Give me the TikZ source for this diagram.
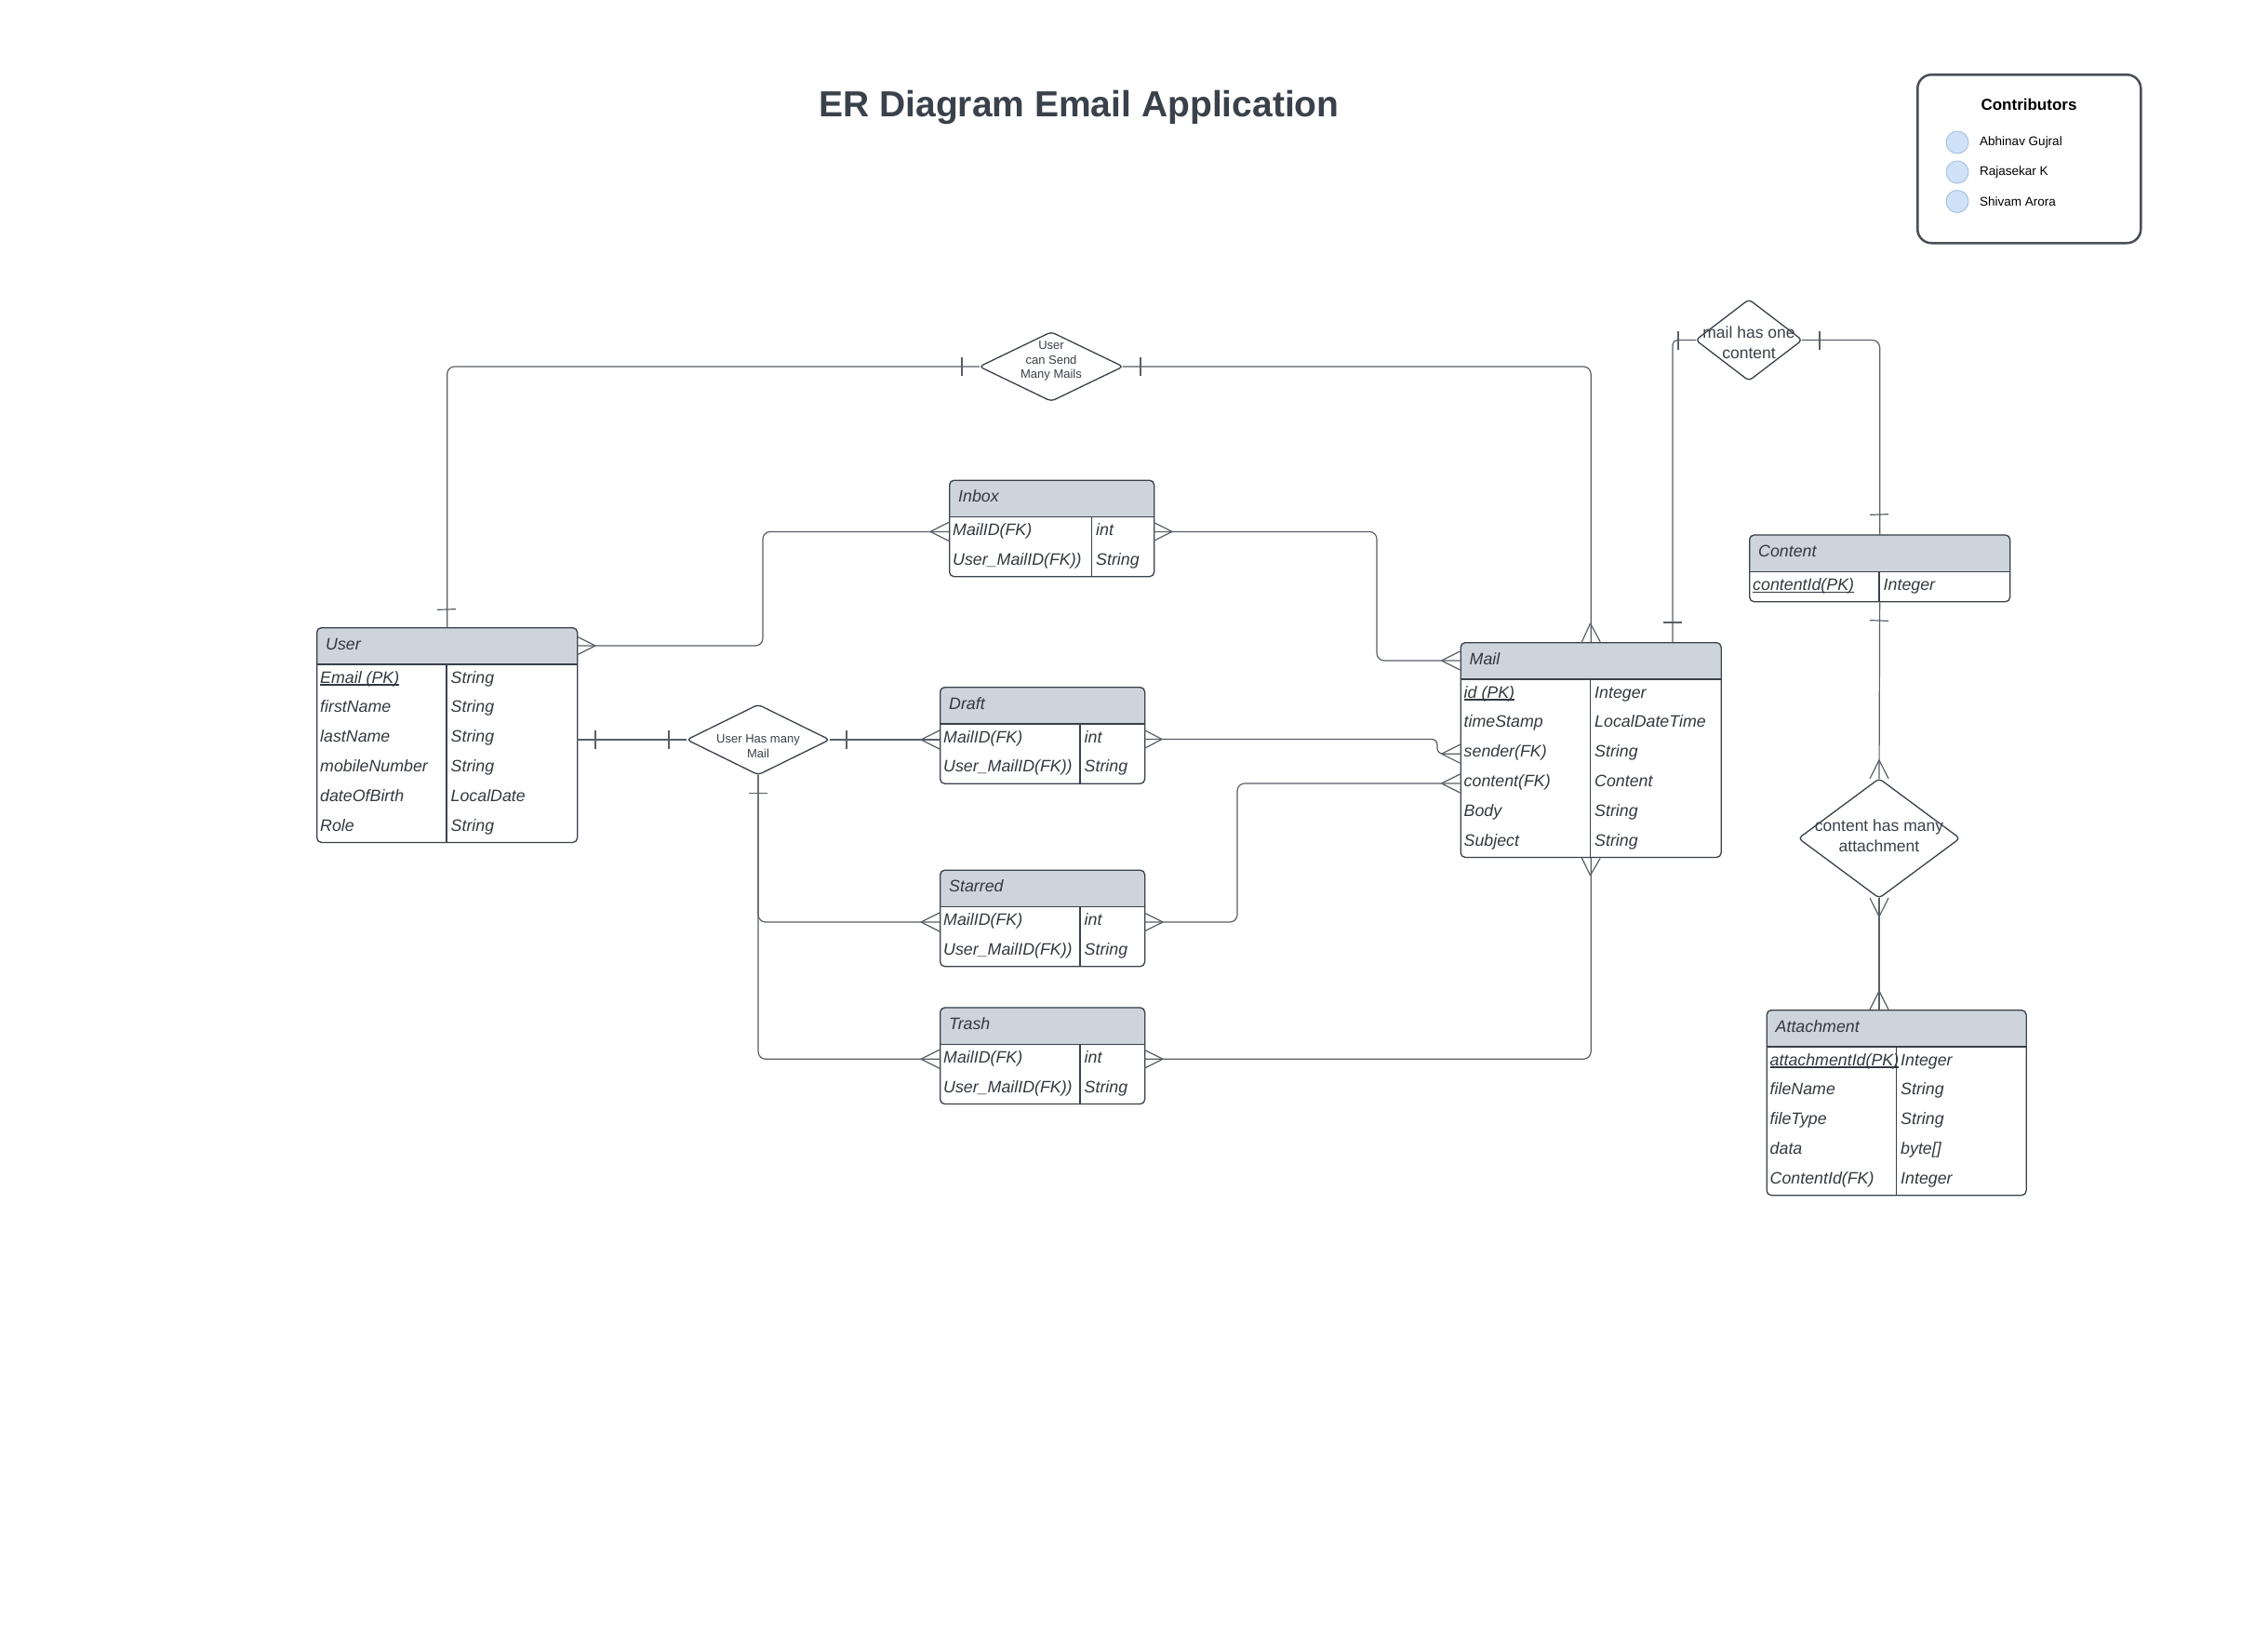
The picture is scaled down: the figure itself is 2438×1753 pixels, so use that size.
\documentclass[tikz,border=0pt]{standalone}
\usepackage{fontspec}
\setmainfont{Liberation Sans}
\usetikzlibrary{calc}
\definecolor{ink}{HTML}{3A414A}
\definecolor{txt}{HTML}{333840}
\definecolor{hdr}{HTML}{CED4DB}
\definecolor{connc}{HTML}{5A5F66}
\definecolor{circfill}{HTML}{CFE2F8}
\definecolor{circdraw}{HTML}{A9C3E0}
\definecolor{boxc}{HTML}{4A4F56}

\tikzset{
 conn/.style={draw=connc, line width=1.2pt},
 tbl/.style={draw=ink, line width=1.3pt, rounded corners=5pt, inner sep=0pt, fill=none},
 tblline/.style={draw=ink, line width=1.3pt},
 hdrtext/.style={inner sep=0pt, text=txt, font=\fontsize{17.8}{21}\selectfont\itshape},
 rowtext/.style={inner sep=0pt, text=txt, font=\fontsize{17.8}{21}\selectfont\itshape},
 relshape/.style={draw=ink, line width=1.3pt, rounded corners=4pt, fill=white},
 reltext/.style={inner sep=0pt, text=ink, align=center},
 relbox/.style={inner sep=0pt, draw=none},
 person/.style={circle, fill=circfill, draw=circdraw, line width=1pt, minimum size=24pt, inner sep=0pt},
 personname/.style={anchor=west, inner sep=0pt, font=\fontsize{13.5}{16}\selectfont},
}

\newcommand\ulText[1]{\setbox0=\hbox{#1}\rlap{\rule[-2.6pt]{\wd0}{1.2pt}}\box0}

% name, x, y, width, divider x, rows, title, rows list
\newcommand\ertable[8]{%
 \pgfmathsetmacro\erh{40+#6*31.8}%
 \begin{scope}
  \clip[rounded corners=5pt] (#2,#3) rectangle ++(#4,\erh);
  \fill[hdr] (#2,#3) rectangle ++(#4,40);
 \end{scope}
 \node[tbl, minimum width=#4pt, minimum height=\erh pt, anchor=north west] (#1) at (#2,#3) {};
 \draw[tblline] (#2,#3+40) -- ++(#4,0);
 \draw[tblline] (#5,#3+40) -- (#5,#3+\erh);
 \node[hdrtext, anchor=base west] (#1-title) at (#2+10,#3+24) {#7};
 \foreach \a/\b [count=\i] in {#8} {
   \node[rowtext, anchor=base west] (#1-l\i) at (#2+4,#3+60+\i*31.8-31.8) {\a};
   \node[rowtext, anchor=base west] (#1-r\i) at (#5+4.5,#3+60+\i*31.8-31.8) {\b};
 }
}

% name, cx, cy, w, h
\newcommand\relation[5]{%
 \node[relbox, minimum width=#4pt, minimum height=#5pt] (#1) at (#2,#3) {};
 \draw[relshape] (#1.west) -- (#1.north) -- (#1.east) -- (#1.south) -- cycle;
}

\newcommand\crowfoot[2]{\draw[conn] (#1) -- ($(#2)!10pt!90:(#1)$) (#1) -- ($(#2)!10pt!-90:(#1)$);}
\newcommand\tickmark[2]{\draw[conn] ($(#1)!10pt!90:(#2)$) -- ($(#1)!10pt!-90:(#2)$);}

\begin{document}
\begin{tikzpicture}[x=1pt,y=-1pt]
\useasboundingbox[fill=white] (0,0) rectangle (2438,1753);

% title
\node[anchor=base, text=ink, font=\fontsize{39}{44}\selectfont\bfseries, inner sep=0pt] (title) at (1160,125) {ER Diagram Email Application};

% contributors
\node[draw=boxc, line width=2.5pt, rounded corners=15pt, minimum width=240pt, minimum height=181pt, anchor=north west, inner sep=0pt] (contrib) at (2060,79) {};
\node[font=\fontsize{17}{20}\selectfont\bfseries, inner sep=0pt] (contribtitle) at (2181,112.7) {Contributors};
\node[person] (p1) at (2104,153) {};
\node[person] (p2) at (2104,185) {};
\node[person] (p3) at (2104,216.5) {};
\node[personname] (n1) at (2128,153) {Abhinav Gujral};
\node[personname] (n2) at (2128,185) {Rajasekar K};
\node[personname] (n3) at (2128,216.5) {Shivam Arora};

% tables
\ertable{user}{340}{674}{280}{480}{6}{User}{\ulText{Email (PK)}/String, firstName/String, lastName/String, mobileNumber/String, dateOfBirth/LocalDate, Role/String}
\ertable{inbox}{1020}{515.5}{220}{1173.5}{2}{Inbox}{MailID(FK)/int, User\_MailID(FK))/String}
\ertable{mail}{1569.5}{690}{280}{1709.5}{6}{Mail}{\ulText{id (PK)}/Integer, timeStamp/LocalDateTime, sender(FK)/String, content(FK)/Content, Body/String, Subject/String}
\ertable{draft}{1010}{738}{220}{1161}{2}{Draft}{MailID(FK)/int, User\_MailID(FK))/String}
\ertable{starred}{1010}{934.5}{220}{1161}{2}{Starred}{MailID(FK)/int, User\_MailID(FK))/String}
\ertable{trash}{1010}{1082.3}{220}{1161}{2}{Trash}{MailID(FK)/int, User\_MailID(FK))/String}
\ertable{content}{1880}{574.3}{280}{2020}{1}{Content}{\ulText{contentId(PK)}/Integer}
\ertable{attach}{1898.5}{1085}{279}{2038.5}{5}{Attachment}{\ulText{attachmentId(PK)}/Integer, fileName/String, fileType/String, data/byte[], ContentId(FK)/Integer}

% relations
\relation{rel1}{1130}{394}{154}{74}
\node[reltext, font=\fontsize{13}{15.5}\selectfont] (rel1-text) at (1130,388) {User\\can Send\\Many Mails};
\relation{rel2}{815}{795}{153}{75}
\node[reltext, font=\fontsize{13}{15.5}\selectfont] (rel2-text) at (815,802) {User Has many\\Mail};
\relation{rel3}{1880}{365.5}{114}{87}
\node[reltext, font=\fontsize{17.5}{21.7}\selectfont] (rel3-text) at (1880,368.5) {mail has one\\content};
\relation{rel4}{2020}{901}{173}{128}
\node[reltext, font=\fontsize{17.5}{21.7}\selectfont] (rel4-text) at (2020,898.5) {content has many\\attachment};

% connection points
\coordinate (userH) at (620,694);
\coordinate (userR) at (620,795);
\coordinate (inboxL) at (1020,571.4);
\coordinate (inboxR) at (1240,571.4);
\coordinate (mailH) at (1569.5,710);
\coordinate (mailS) at (1569.5,810.2);
\coordinate (mailC) at (1569.5,842);
\coordinate (mailT2) at (1798,690);
\coordinate (draftL) at (1010,795);
\coordinate (draftR) at (1230,794.5);
\coordinate (starL) at (1010,991);
\coordinate (starR) at (1230,991);
\coordinate (trashL) at (1010,1138.2);
\coordinate (trashR) at (1230,1138.2);
\coordinate (attT) at (2020,1085);

% user -- rel1 -- mail
\draw[conn, rounded corners=8pt] (user.north) -- (user.north |- rel1.west) -- (rel1.west);
\tickmark{480,655}{user.north}
\tickmark{1034,394}{rel1.west}
\draw[conn, rounded corners=8pt] (rel1.east) -- (mail.north |- rel1.east) -- (mail.north);
\tickmark{1226,394}{rel1.east}
\crowfoot{1709.5,670}{mail.north}

% user -- inbox
\draw[conn, rounded corners=8pt] (userH) -- (820,694) -- (820,571.4) -- (inboxL);
\crowfoot{640,694}{userH}
\crowfoot{1000,571.4}{inboxL}

% inbox -- mail
\draw[conn, rounded corners=8pt] (inboxR) -- (1480,571.4) -- (1480,710) -- (mailH);
\crowfoot{1260,571.4}{inboxR}
\crowfoot{1549.5,710}{mailH}

% user -- rel2
\draw[conn] (userR) -- (rel2.west);
\tickmark{640,795}{rel2.west}
\tickmark{719,795}{rel2.west}

% rel2 -- draft / starred / trash
\draw[conn] (rel2.east) -- (draftL);
\tickmark{910,795}{rel2.east}
\crowfoot{990,795}{draftL}
\draw[conn, rounded corners=8pt] (rel2.south) -- (rel2.south |- starL) -- (starL);
\draw[conn, rounded corners=8pt] (rel2.south) -- (rel2.south |- trashL) -- (trashL);
\tickmark{815,852.5}{rel2.south}
\crowfoot{990,991}{starL}
\crowfoot{990,1138.2}{trashL}

% draft -- mail
\draw[conn, rounded corners=6pt] (draftR) -- (1545,794.5) -- (1545,810.2) -- (mailS);
\crowfoot{1249,794.5}{draftR}
\crowfoot{1549.5,810.2}{mailS}

% starred -- mail
\draw[conn, rounded corners=8pt] (starR) -- (1330,991) -- (1330,842) -- (mailC);
\crowfoot{1250,991}{starR}
\crowfoot{1549.5,842}{mailC}

% trash -- mail
\draw[conn, rounded corners=8pt] (trashR) -- (mail.south |- trashR) -- (mail.south);
\crowfoot{1250,1138.2}{trashR}
\crowfoot{1709.5,940.8}{mail.south}

% mail -- rel3 -- content
\draw[conn, rounded corners=5pt] (mailT2) -- (mailT2 |- rel3.west) -- (rel3.west);
\tickmark{1798,669}{mailT2}
\tickmark{1804,365.5}{rel3.west}
\draw[conn, rounded corners=8pt] (rel3.east) -- (content.north |- rel3.east) -- (content.north);
\tickmark{1956,365.5}{rel3.east}
\tickmark{2020,553}{content.north}

% content -- rel4 -- attachment
\draw[conn] (content.south) -- (rel4.north);
\tickmark{2020,667}{content.south}
\crowfoot{2020,817}{rel4.north}
\draw[conn] (rel4.south) -- (attT);
\crowfoot{2020,985}{rel4.south}
\crowfoot{2020,1065}{attT}
\end{tikzpicture}
\end{document}
